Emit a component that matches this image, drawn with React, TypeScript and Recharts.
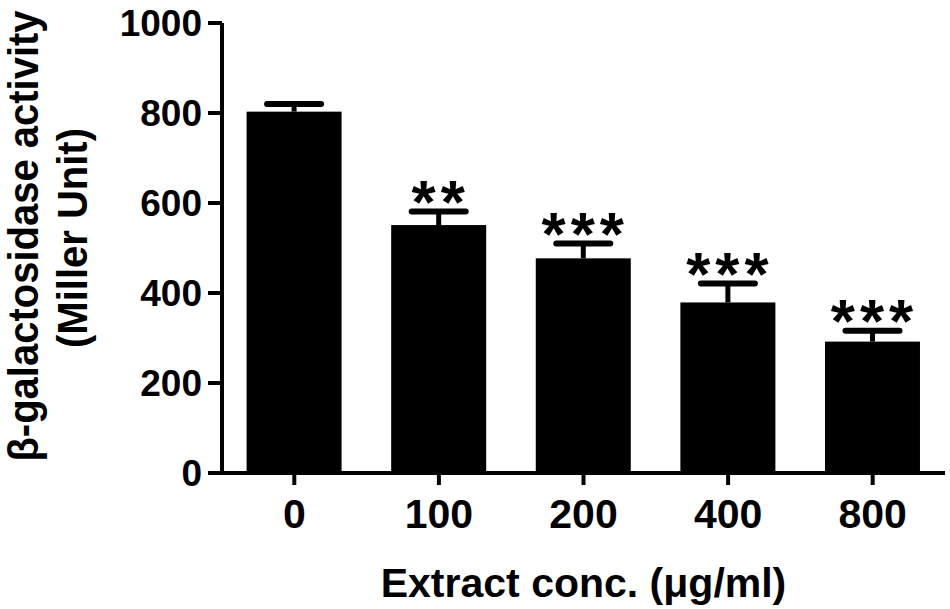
import React from "react";
import { BarChart, Bar, XAxis, YAxis, LabelList } from "recharts";

const categories = ["0", "100", "200", "400", "800"];
const meanValues = [803, 551, 477, 379, 292];
const upperErrors = [17, 30, 33, 42, 24];
const significance = ["", "**", "***", "***", "***"];
const yTicks = [0, 200, 400, 600, 800, 1000];

const yLabelLine1 = "β-galactosidase activity";
const yLabelLine2 = "(Miller Unit)";
const xLabel = "Extract conc. (μg/ml)";

const data = categories.map((c, i) => ({
  conc: c,
  value: meanValues[i],
  err: upperErrors[i],
  sig: significance[i],
}));

const FONT = "'Liberation Sans', Arial, Helvetica, sans-serif";

// Bar with a one-sided (upper) SEM error bar, GraphPad style.
const BarWithError = (props: any) => {
  const { x, y, width, height, value, payload } = props;
  const v = Array.isArray(value) ? value[1] - value[0] : value;
  const pxPerUnit = v ? height / v : 0;
  const capY = y - payload.err * pxPerUnit;
  const cx = x + width / 2;
  const capHalf = 27;
  return (
    <g>
      <rect x={x} y={y} width={width} height={height} fill="#000" />
      <line x1={cx} y1={y} x2={cx} y2={capY} stroke="#000" strokeWidth={5} />
      <line x1={cx - capHalf} y1={capY} x2={cx + capHalf} y2={capY} stroke="#000" strokeWidth={6} strokeLinecap="round" />
    </g>
  );
};

const SigLabel = (props: any) => {
  const { x, y, width, height, value, index } = props;
  const sig = significance[index];
  if (!sig) return null;
  const pxPerUnit = height / value;
  const capY = y - upperErrors[index] * pxPerUnit;
  return (
    <text
      x={x + width / 2 + 2}
      y={capY + 11}
      textAnchor="middle"
      fontFamily={FONT}
      fontWeight="bold"
      fontSize={62}
      letterSpacing={5}
      fill="#000"
    >
      {sig}
    </text>
  );
};

const YLabel = () => (
  <g>
    <text
      transform="translate(38, 236) rotate(-90) scale(1, 1.05)"
      textAnchor="middle"
      fontFamily={FONT}
      fontWeight="bold"
      fontSize={40}
      fill="#000"
    >
      {yLabelLine1}
    </text>
    <text
      transform="translate(87, 238) rotate(-90) scale(1, 1.05)"
      textAnchor="middle"
      fontFamily={FONT}
      fontWeight="bold"
      fontSize={40}
      fill="#000"
    >
      {yLabelLine2}
    </text>
  </g>
);

export default function App() {
  return (
    <div style={{ position: "absolute", left: 0, top: 0, width: 950, height: 609, background: "#fff" }}>
      <BarChart
        width={950}
        height={609}
        data={data}
        margin={{ top: 23, right: 5, bottom: 0, left: 0 }}
        barCategoryGap="17%"
      >
        <XAxis
          dataKey="conc"
          height={136}
          tickSize={12}
          tickMargin={14}
          axisLine={{ stroke: "#000", strokeWidth: 4 }}
          tickLine={{ stroke: "#000", strokeWidth: 4 }}
          tick={{ fill: "#000", fontSize: 41, fontWeight: "bold", fontFamily: FONT }}
          label={{
            value: xLabel,
            position: "insideBottom",
            offset: 12,
            fill: "#000",
            fontSize: 41,
            fontWeight: "bold",
            fontFamily: FONT,
          }}
        />
        <YAxis
          width={222}
          domain={[0, 1000]}
          ticks={yTicks}
          interval={0}
          tickSize={14}
          tickMargin={6}
          axisLine={{ stroke: "#000", strokeWidth: 4 }}
          tickLine={{ stroke: "#000", strokeWidth: 4 }}
          tick={{ fill: "#000", fontSize: 37, fontWeight: "bold", fontFamily: FONT }}
          label={{ content: () => <YLabel /> }}
        />
        <Bar dataKey="value" fill="#000" isAnimationActive={false} shape={<BarWithError />}>
          <LabelList dataKey="value" content={<SigLabel />} />
        </Bar>
      </BarChart>
    </div>
  );
}
